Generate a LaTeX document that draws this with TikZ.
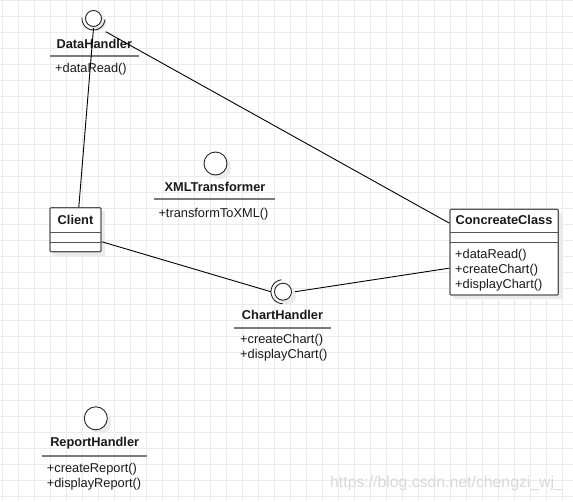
\documentclass[tikz,border=0pt]{standalone}
\usepackage{fontspec}
\setmainfont{Liberation Sans}
\definecolor{gridc}{HTML}{EBEBEB}
\definecolor{boxc}{HTML}{555555}
\definecolor{sepc}{HTML}{7A7A7A}
\definecolor{txtc}{HTML}{1A1A1A}
\definecolor{shadc}{HTML}{EBEBEB}
\definecolor{wmc}{HTML}{D9D9D9}
\tikzset{
  ttl/.style={font=\fontsize{12.8}{15}\selectfont\bfseries, text=txtc, anchor=base, inner sep=0pt},
  meth/.style={font=\fontsize{12.8}{15}\selectfont, text=txtc, anchor=base west, inner sep=0pt},
  sepline/.style={draw=sepc, line width=1.8pt},
  ball/.style={circle, draw=black!85, fill=white, line width=0.9pt, inner sep=0pt},
  sockarc/.style={draw=black!85, line width=0.9pt},
  ifc/.style={minimum size=24pt, inner sep=0pt},
  classbox/.style={draw=boxc, fill=white, line width=1.3pt, rounded corners=1pt, inner sep=0pt},
  divline/.style={draw=boxc, line width=1.3pt},
  conn/.style={draw=black, line width=0.9pt},
  shad/.style={fill=shadc, draw=none},
}
\begin{document}
\begin{tikzpicture}[x=1pt, y=-1pt]
\useasboundingbox (0,0) rectangle (573,501);
\fill[white] (0,0) rectangle (573,501);
% grid
\foreach \i in {0,...,35} \draw[gridc, line width=1pt] (2.3+16*\i,0) -- (2.3+16*\i,501);
\foreach \j in {0,...,31} \draw[gridc, line width=1pt] (0,0.3+16*\j) -- (573,0.3+16*\j);

% ---------- shadows
\fill[shad] (97.5,22.5) circle (8.5pt);
\fill[shad] (219.5,167.5) circle (11.5pt);
\fill[shad] (99.8,422.3) circle (11.5pt);
\fill[shad] (287,295.7) circle (9pt);
\fill[shad] (53,211) rectangle (105,255.5);
\fill[shad] (453,212.5) rectangle (562,299);

% ---------- DataHandler interface
\node[ifc] (dh) at (93.5,19.5) {};
\node[ball, minimum size=16pt] (dhball) at (93.5,18.5) {};
\draw[sockarc] plot[domain=5:185, samples=40] ({93.5+11.5*cos(\x)}, {18.5+11.5*sin(\x)});
\node[ttl] (dht) at (94.3,48.4) {DataHandler};
\draw[sepline] (50,55.7) -- (139,55.7);
\node[meth] (dhm) at (55,72.8) {+dataRead()};

% ---------- XMLTransformer interface
\node[ball, minimum size=23pt] (xball) at (215.5,163.5) {};
\node[ttl] (xt) at (215,191.8) {XMLTransformer};
\draw[sepline] (154,199.3) -- (275,199.3);
\node[meth] (xm) at (158.3,217.3) {+transformToXML()};

% ---------- ChartHandler interface
\node[ifc] (ch) at (283,291.7) {};
\node[ball, minimum size=17pt] (chball) at (283,291.7) {};
\draw[sockarc] plot[domain=92:262, samples=40] ({283+12*cos(\x)}, {291.7+12*sin(\x)});
\node[ttl] (cht) at (282.5,319.9) {ChartHandler};
\draw[sepline] (234,328.3) -- (330.7,328.3);
\node[meth] (chm1) at (240,343.2) {+createChart()};
\node[meth] (chm2) at (240,358.2) {+displayChart()};

% ---------- ReportHandler interface
\node[ball, minimum size=23pt] (rball) at (95.8,418.3) {};
\node[ttl] (rt) at (94.7,446.9) {ReportHandler};
\draw[sepline] (41.7,455.7) -- (146.7,455.7);
\node[meth] (rm1) at (46.7,472.5) {+createReport()};
\node[meth] (rm2) at (46.7,487.5) {+displayReport()};

% ---------- Client class
\node[classbox, minimum width=51pt, minimum height=44pt] (client) at (75.5,229.7) {};
\draw[divline] (50,232.7) -- (101,232.7);
\draw[divline] (50,242.3) -- (101,242.3);
\node[ttl] (clt) at (75.5,224.4) {Client};

% ---------- ConcreateClass
\node[classbox, minimum width=108.3pt, minimum height=85.7pt] (cc) at (504.15,252.15) {};
\draw[divline] (450,232.3) -- (558.3,232.3);
\draw[divline] (450,242.7) -- (558.3,242.7);
\node[ttl] (cct) at (504,224.3) {ConcreateClass};
\node[meth] (ccm1) at (455,258.5) {+dataRead()};
\node[meth] (ccm2) at (455,273.5) {+createChart()};
\node[meth] (ccm3) at (455,288.5) {+displayChart()};

% ---------- connectors
\draw[conn] ([xshift=3.3pt]client.north) -- ([yshift=3.5pt]dh.south);
\draw[conn] (dh.south east) -- ([yshift=29pt]cc.west);
\draw[conn] ([yshift=-12pt]client.east) -- (ch.west);
\draw[conn] ([yshift=-16pt]cc.west) -- (ch.east);

% ---------- watermark
\node[font=\fontsize{15.8}{18}\selectfont, text=wmc, anchor=base west, inner sep=0pt] (wm) at (330,487) {https://blog.csdn.net/chengzi\_wj\_};
\end{tikzpicture}
\end{document}
